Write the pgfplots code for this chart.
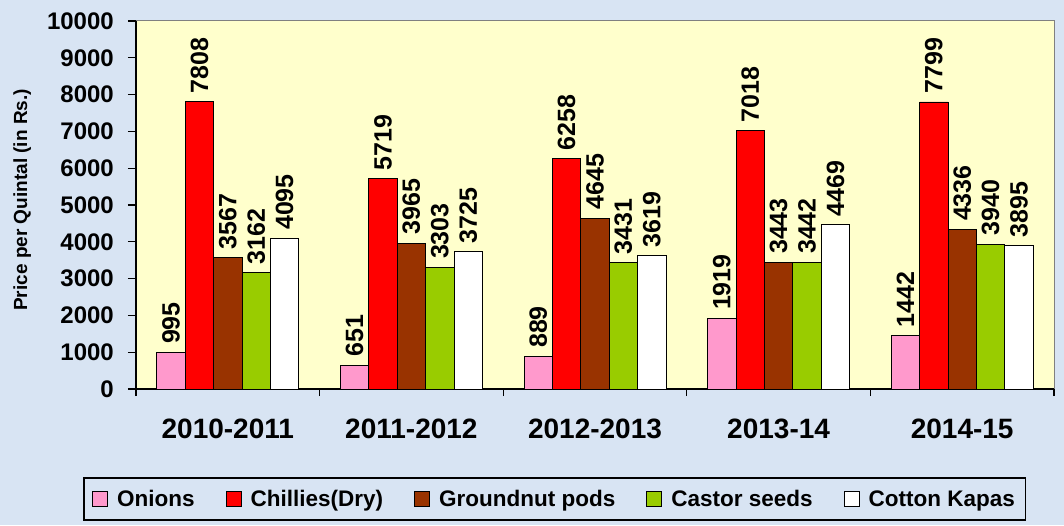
\documentclass[border=0pt]{standalone}
\usepackage{pgfplots}
\pgfplotsset{compat=1.18}
\usepackage{fontspec}
\setmainfont{Liberation Sans}
\definecolor{bgblue}{RGB}{216,228,243}
\definecolor{plotbg}{RGB}{255,255,204}
\definecolor{cpink}{RGB}{255,153,204}
\definecolor{cred}{RGB}{255,0,0}
\definecolor{cbrown}{RGB}{153,51,0}
\definecolor{cgreen}{RGB}{153,204,0}
\begin{document}
\begin{tikzpicture}
\fill[bgblue] (0,0) rectangle (1064pt,525pt);
\begin{axis}[
  at={(136pt,136pt)}, anchor=south west,
  scale only axis, width=918pt, height=368pt,
  ybar=0pt, bar width=28.4pt,
  xmin=-0.5, xmax=4.5, ymin=0, ymax=10000,
  enlargelimits=false, clip=false,
  axis background/.style={fill=plotbg},
  axis x line*=bottom, axis y line*=left,
  axis line style={black, line width=1.6pt, -},
  tick align=outside,
  xtick={0,1,2,3,4},
  xticklabels={2010-2011,2011-2012,2012-2013,2013-14,2014-15},
  major x tick style={draw=none},
  minor xtick={-0.5,0.5,1.5,2.5,3.5,4.5},
  minor tick length=7pt,
  minor x tick style={black, line width=1.2pt},
  ytick={0,1000,...,10000},
  major tick length=8pt,
  major y tick style={black, line width=1.2pt},
  scaled y ticks=false,
  /pgf/number format/1000 sep={},
  /pgf/number format/assume math mode=true,
  yticklabel style={font=\fontsize{24}{24}\selectfont\bfseries, anchor=east, inner sep=0pt, xshift=-14pt},
  xticklabel style={font=\fontsize{28}{28}\selectfont\bfseries, anchor=center, yshift=-32pt},
  ylabel={Price per Quintal (in Rs.)},
  ylabel style={font=\fontsize{19}{19}\selectfont\bfseries, at={(axis description cs:-0.124,0.514)}, anchor=center},
  nodes near coords,
  every node near coord/.append style={font=\fontsize{25}{25}\selectfont\bfseries, rotate=90, anchor=west, inner sep=0pt, xshift=8pt},
  legend columns=5,
  legend style={at={(axis description cs:0.4564,-0.2989)}, anchor=center,
    draw=black, line width=1.2pt, fill=bgblue,
    font=\fontsize{22.5}{22.5}\selectfont\bfseries,
    inner xsep=8pt, inner ysep=10pt,
    /tikz/every odd column/.append style={column sep=6pt},
    /tikz/every even column/.append style={column sep=28pt},
    nodes={inner xsep=3pt}},
  legend image code/.code={\draw[#1, line width=1pt, draw=black] (0pt,-7.5pt) rectangle (15pt,7.5pt);},
]
\addplot[fill=cpink, draw=black, line width=0.9pt] coordinates {(0,995) (1,651) (2,889) (3,1919) (4,1442)};
\addplot[fill=cred, draw=black, line width=0.9pt] coordinates {(0,7808) (1,5719) (2,6258) (3,7018) (4,7799)};
\addplot[fill=cbrown, draw=black, line width=0.9pt] coordinates {(0,3567) (1,3965) (2,4645) (3,3443) (4,4336)};
\addplot[fill=cgreen, draw=black, line width=0.9pt] coordinates {(0,3162) (1,3303) (2,3431) (3,3442) (4,3940)};
\addplot[fill=white, draw=black, line width=0.9pt] coordinates {(0,4095) (1,3725) (2,3619) (3,4469) (4,3895)};
\legend{Onions, Chillies(Dry), Groundnut pods, Castor seeds, Cotton Kapas}
\draw[gray, line width=1pt] (rel axis cs:0,1) -- (rel axis cs:1,1) -- (rel axis cs:1,0);
\end{axis}
\pgfresetboundingbox
\useasboundingbox (0,0) rectangle (1064pt,525pt);
\end{tikzpicture}
\end{document}
